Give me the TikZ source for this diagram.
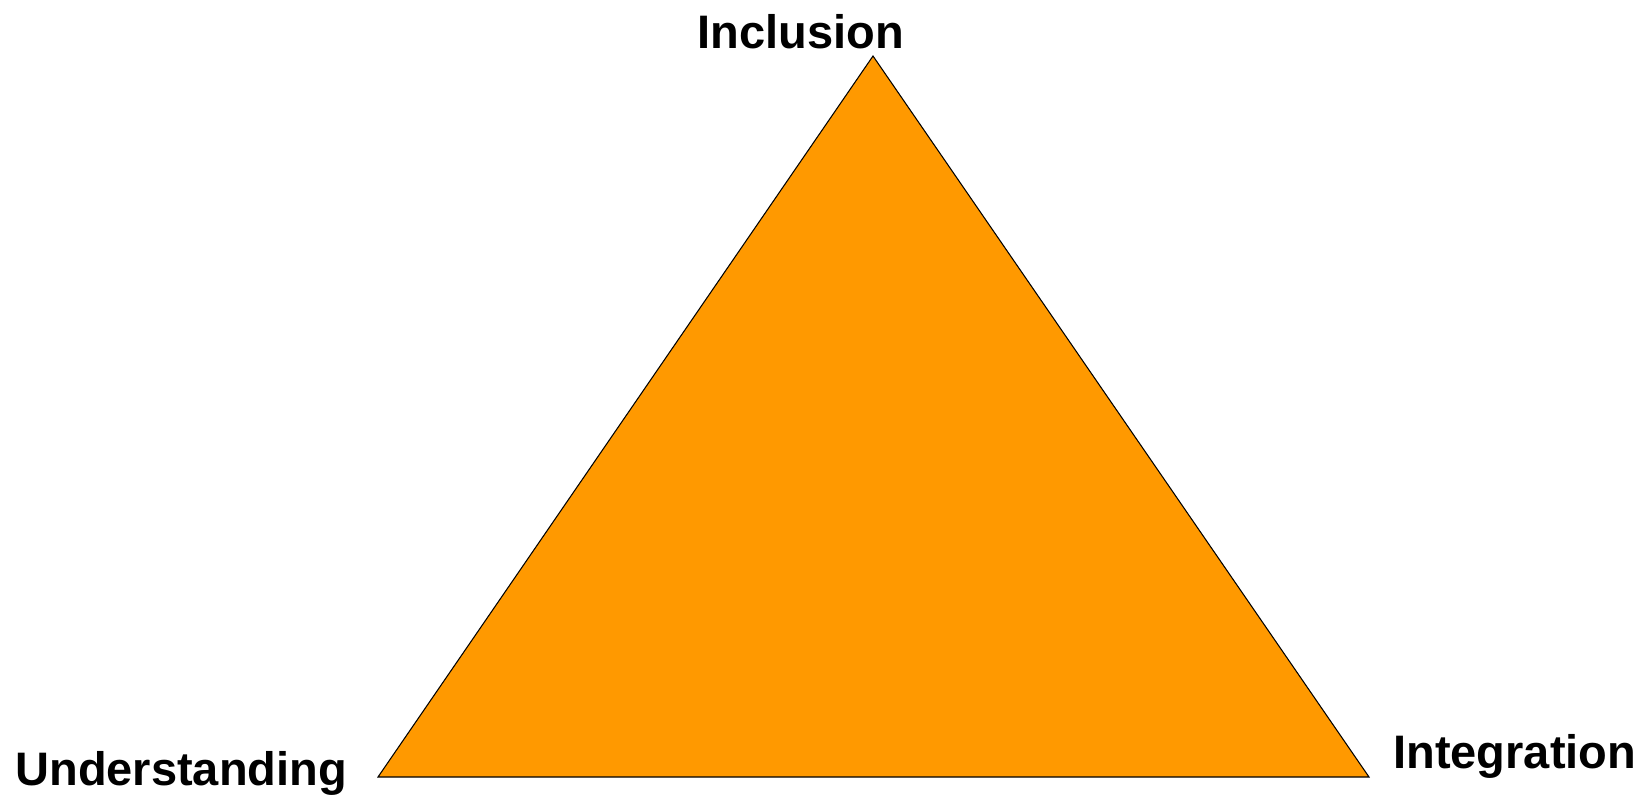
\documentclass[tikz,border=0pt]{standalone}
\usepackage{fontspec}
\setmainfont{Liberation Sans}
\usetikzlibrary{positioning}

\definecolor{triorange}{HTML}{FF9900}

\begin{document}
\begin{tikzpicture}[
    x=0.02cm, y=-0.02cm,
    corner/.style={font=\fontsize{26.75}{32}\selectfont\bfseries, inner sep=0pt},
    tri/.style={fill=triorange, draw=black, line width=0.6pt, line join=miter},
]
\useasboundingbox (0,0) rectangle (1641,795);

% Vertices
\coordinate (top) at (873,56);
\coordinate (left) at (378,777);
\coordinate (right) at (1369,777);

\draw[tri] (top) -- (right) -- (left) -- cycle;

% Labels
\node[corner, anchor=base] (incl) at (801,48) {Inclusion};
\node[corner, anchor=base west] (under) at (15,785) {Understanding};
\node[corner, anchor=base west] (integ) at (1393,768) {Integration};

\end{tikzpicture}
\end{document}
